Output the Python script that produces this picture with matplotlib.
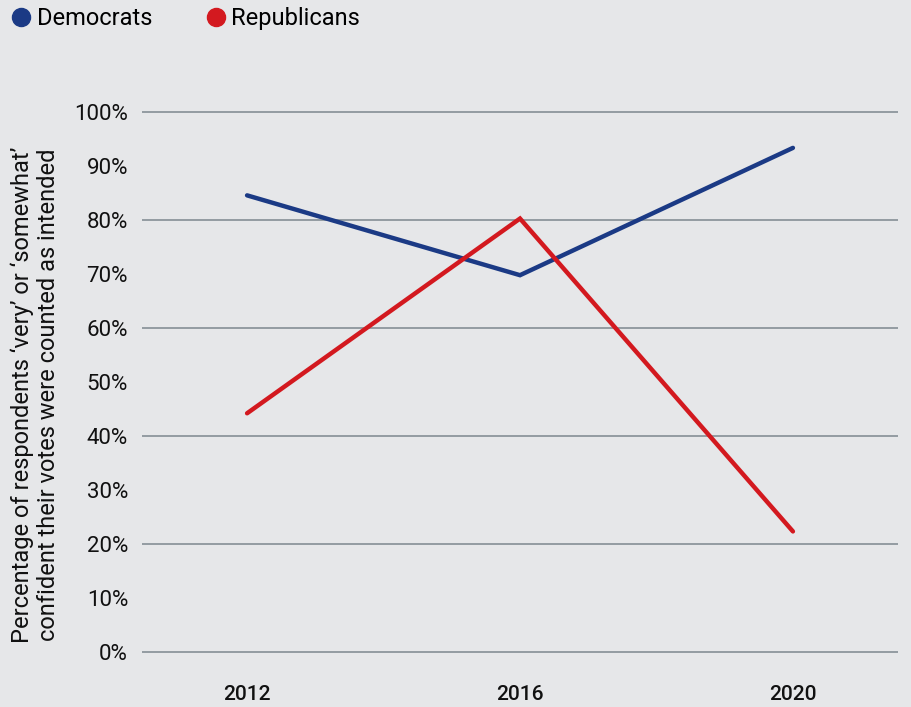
import matplotlib
matplotlib.use("Agg")
import matplotlib.pyplot as plt
from matplotlib.lines import Line2D

years = [2012, 2016, 2020]
democrats = [84.6, 69.8, 93.4]
republicans = [44.2, 80.3, 22.3]
yticks = list(range(0, 101, 10))
ytick_labels = [f"{v}%" for v in yticks]
grid_levels = [0, 20, 40, 60, 80, 100]
series_names = ["Democrats", "Republicans"]

BG = "#e6e7e9"
BLUE = "#1b3a85"
RED = "#d3191f"
GRID = "#8d969c"
TXT = "#111111"

plt.rcParams["font.family"] = ["Roboto", "DejaVu Sans"]

fig = plt.figure(figsize=(9.12, 7.07), dpi=100, facecolor=BG)
ax = fig.add_axes([142/912, 1-667.9/707, (898-142)/912, (667.9-96.1)/707])
ax.set_facecolor(BG)

for g in grid_levels:
    ax.axhline(g, color=GRID, lw=1.3, zorder=1)

ax.plot(years, democrats, color=BLUE, lw=3.2, solid_capstyle="round", solid_joinstyle="miter", zorder=3)
ax.plot(years, republicans, color=RED, lw=3.2, solid_capstyle="round", solid_joinstyle="miter", zorder=3)

ax.set_xlim(2010.46, 2021.54)
ax.set_ylim(-3, 103)
ax.set_xticks(years)
ax.set_xticklabels([str(y) for y in years], fontsize=15, color=TXT, fontweight="medium")
ax.set_yticks(yticks)
ax.set_yticklabels(ytick_labels, fontsize=16, color=TXT)
ax.tick_params(axis="both", length=0)
ax.tick_params(axis="y", pad=10)
ax.tick_params(axis="x", pad=12)
for s in ax.spines.values():
    s.set_visible(False)

ax.set_ylabel("Percentage of respondents \u2018very\u2019 or \u2018somewhat\u2019\nconfident their votes were counted as intended",
              fontsize=17, color=TXT, labelpad=10, linespacing=1.2, y=0.4775)

handles = [Line2D([], [], marker="o", ls="none", markersize=13, color=c) for c in (BLUE, RED)]
fig.legend(handles, series_names, loc="upper left", bbox_to_anchor=(0.0, 1.0), ncol=2, frameon=False,
           fontsize=17, handletextpad=0.05, columnspacing=2.1, handlelength=1.2,
           borderaxespad=0.1, borderpad=0.2)

fig.savefig("out.png", dpi=100, facecolor=BG)
